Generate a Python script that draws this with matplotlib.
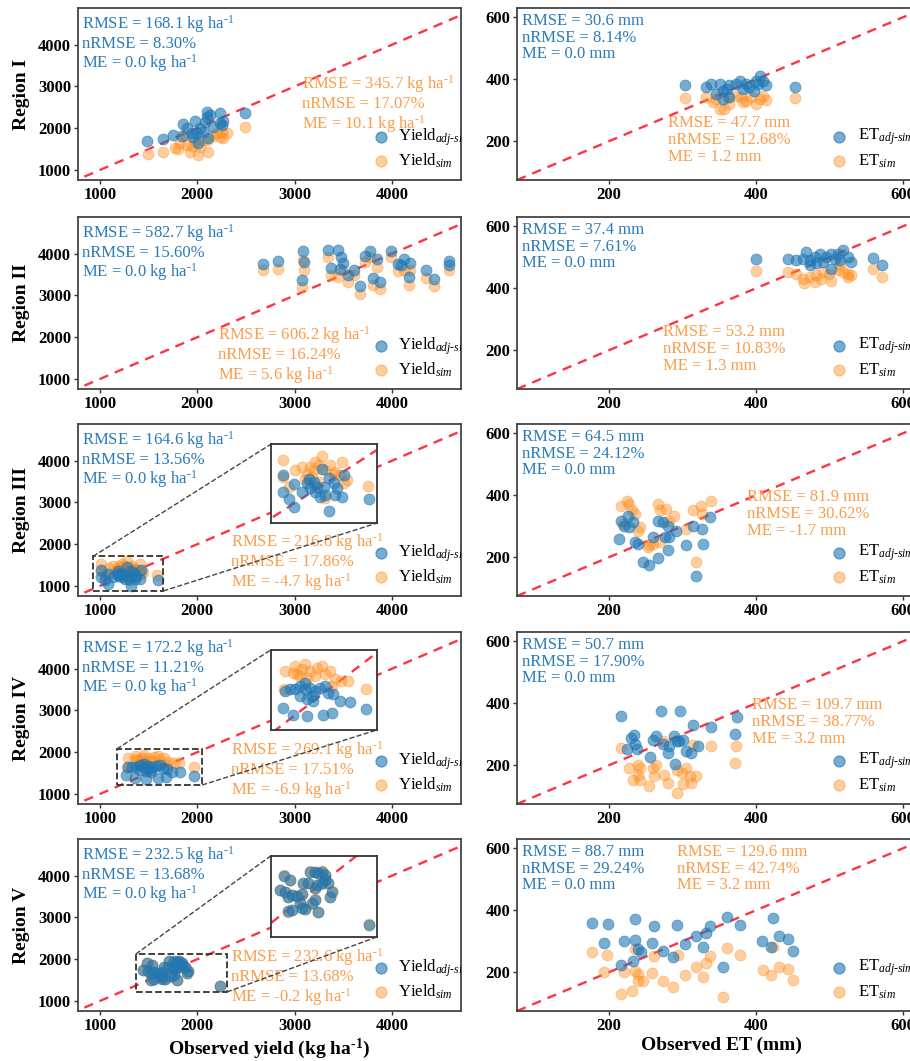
import matplotlib.pyplot as plt
from matplotlib.patches import Rectangle

plt.rcParams['font.family'] = ['Liberation Serif', 'DejaVu Serif']
plt.rcParams['mathtext.fontset'] = 'custom'
plt.rcParams['mathtext.rm'] = 'Liberation Serif'
plt.rcParams['mathtext.it'] = 'Liberation Serif:italic'
plt.rcParams['mathtext.bf'] = 'Liberation Serif:bold'

BLUE = '#1f77b4'
ORANGE = '#ff8c1a'
BLUE_TXT = '#2a7ab9'
ORANGE_TXT = '#fb9d4a'
RED = '#ff3344'

regions = ['Region I', 'Region II', 'Region III', 'Region IV', 'Region V']

# ---- yield (kg ha-1) ----
yI_obs_a = [1479, 1651, 1753, 1849, 1890, 1976, 1993, 2027, 2096, 2103, 2079, 2130, 2010, 2113,
            2233, 2250, 2233, 2490, 2062, 1942, 2164, 2267, 1839, 1959]
yI_adj = [1704, 1736, 1840, 2104, 2000, 2184, 1880, 2000, 2264, 2400, 2160, 2320, 1640, 1760,
          2360, 2080, 2120, 2360, 1920, 1880, 2040, 2184, 1816, 1800]
yI_obs_s = [1490, 1651, 1771, 1805, 1925, 2010, 2113, 1890, 2027, 2062, 2164, 2233, 2250, 2301,
            2490, 2198, 1976, 1873, 2096, 1942, 1822, 2267]
yI_sim = [1384, 1440, 1520, 1504, 1440, 1360, 1440, 1600, 1560, 1720, 1816, 1800, 1920, 1880,
          2040, 1880, 1680, 1840, 1720, 1576, 1656, 1760]

yII_obs_a = [2671, 2832, 3072, 3089, 3096, 3339, 3373, 3449, 3473, 3500, 3466, 3551, 3613, 3671,
             3723, 3774, 3808, 3842, 3877, 3990, 4058, 4127, 4178, 4185, 4349, 4428, 4589, 4589, 4093]
yII_adj = [3760, 3816, 3376, 4056, 3800, 4080, 3664, 4080, 3920, 3776, 3640, 3480, 3616, 3216,
           3936, 4056, 3424, 3880, 3320, 4056, 3744, 3880, 3440, 3776, 3600, 3392, 3824, 3720, 3720]
yII_obs_s = [2671, 2832, 3072, 3089, 3096, 3339, 3373, 3449, 3551, 3613, 3671, 3723, 3808, 3842,
             3877, 3990, 4058, 4127, 4178, 4185, 4349, 4428, 4589, 3774, 3500]
yII_sim = [3600, 3640, 3200, 3856, 3600, 3920, 3480, 3440, 3320, 3480, 3040, 3800, 3240, 3680,
           3160, 3920, 3584, 3600, 3240, 3600, 3424, 3216, 3600, 3920, 3600]

yIII_obs_a = [1011, 1011, 1049, 1088, 1083, 1139, 1173, 1184, 1196, 1229, 1263, 1274, 1286, 1297,
              1319, 1353, 1364, 1376, 1409, 1421, 1319, 1596, 1218, 1241]
yIII_adj = [1388, 1209, 1132, 1046, 1285, 1209, 1295, 1347, 1243, 1209, 1157, 1451, 1260, 1174,
            1354, 1305, 1174, 1243, 1157, 1381, 1001, 1132, 1312, 1260]
yIII_obs_s = [1011, 1011, 1049, 1094, 1139, 1173, 1196, 1218, 1229, 1252, 1274, 1297, 1331, 1353,
              1398, 1409, 1443, 1421, 1252, 1297, 1364, 1589, 1162, 1207]
yIII_sim = [1537, 1364, 1260, 1433, 1468, 1399, 1468, 1433, 1520, 1485, 1589, 1433, 1485, 1399,
            1381, 1520, 1330, 1295, 1312, 1139, 1416, 1271, 1347, 1364]

yIV_obs_a = [1273, 1361, 1470, 1602, 1675, 1744, 1826, 1963, 1293, 1334, 1375, 1416, 1457, 1498,
             1539, 1580, 1621, 1648, 1416, 1470, 1525, 1511, 1689, 1457]
yIV_adj = [1449, 1377, 1366, 1377, 1402, 1529, 1521, 1439, 1637, 1655, 1655, 1691, 1727, 1673,
           1637, 1673, 1691, 1619, 1583, 1547, 1529, 1583, 1601, 1655]
yIV_obs_s = [1279, 1361, 1388, 1429, 1457, 1498, 1552, 1593, 1621, 1375, 1416, 1539, 1662, 1703,
             1757, 1812, 1963, 1293, 1675, 1470]
yIV_sim = [1655, 1835, 1817, 1871, 1925, 1853, 1889, 1907, 1817, 1907, 1799, 1799, 1853, 1763,
           1745, 1745, 1655, 1853, 1691, 1781]

yV_obs_a = [1481, 1539, 1446, 1496, 1554, 1525, 1598, 1642, 1627, 1642, 1554, 1525, 1671, 1729,
            1759, 1656, 1715, 1759, 1788, 1817, 1846, 1876, 1817, 1773, 1700, 1905, 1890, 1788,
            2235, 1759, 1846]
yV_adj = [1899, 1854, 1741, 1723, 1685, 1666, 1674, 1696, 1599, 1535, 1516, 1505, 1523, 1591,
          1629, 1817, 1948, 1948, 1929, 1948, 1911, 1817, 1817, 1798, 1817, 1723, 1666, 1497,
          1354, 1761, 1854]
yV_obs_s = [1481, 1539, 1446, 1496, 1554, 1525, 1598, 1642, 1627, 1642, 1554, 1525, 1671, 1729,
            1759, 1656, 1715, 1759, 1788, 1817, 1846, 1876, 1817, 1773, 1700, 1905, 1890, 1788,
            2235, 1759, 1846]
yV_sim = [1905, 1850, 1745, 1720, 1690, 1660, 1670, 1700, 1595, 1540, 1520, 1500, 1528, 1585,
          1635, 1812, 1952, 1943, 1933, 1955, 1905, 1822, 1812, 1795, 1820, 1728, 1660, 1500,
          1360, 1765, 1850]

# ---- ET (mm) ----
eI_obs_a = [303, 332, 339, 351, 355, 360, 364, 373, 378, 387, 391, 400, 405, 410, 414, 398, 364,
            355, 453, 346, 382, 403]
eI_adj = [380, 376, 385, 385, 363, 369, 380, 385, 396, 385, 374, 396, 412, 396, 380, 363, 342,
          337, 376, 353, 369, 385]
eI_obs_s = [303, 332, 341, 351, 357, 364, 373, 380, 387, 400, 405, 414, 453, 346, 393, 362, 410, 382]
eI_sim = [340, 342, 326, 304, 304, 320, 347, 342, 331, 320, 337, 334, 340, 337, 342, 342, 347, 326]

eII_obs_a = [400, 444, 455, 464, 468, 473, 480, 487, 491, 496, 502, 507, 511, 518, 525, 530, 559,
             571, 502, 473, 482, 514]
eII_adj = [496, 494, 492, 496, 517, 490, 501, 512, 485, 501, 512, 496, 512, 523, 501, 485, 499,
           474, 463, 474, 480, 490]
eII_obs_s = [400, 444, 455, 464, 466, 480, 482, 491, 502, 511, 518, 525, 530, 559, 571, 473, 500,
             489, 514, 525]
eII_sim = [456, 453, 447, 431, 417, 420, 442, 453, 424, 458, 453, 447, 442, 463, 437, 437, 447,
           431, 474, 437]

eIII_obs_a = [214, 217, 221, 226, 228, 233, 235, 239, 246, 255, 267, 267, 274, 280, 282, 281, 291,
              305, 314, 319, 326, 328, 337, 260, 276]
eIII_adj = [259, 318, 302, 334, 297, 313, 248, 243, 184, 176, 198, 318, 313, 302, 265, 222, 286,
            238, 302, 139, 291, 243, 329, 265, 265]
eIII_obs_s = [217, 224, 228, 231, 242, 239, 253, 260, 267, 269, 278, 289, 269, 305, 314, 325, 326,
              319, 339, 219, 235, 255, 282]
eIII_sim = [367, 383, 372, 351, 297, 286, 232, 243, 372, 351, 356, 334, 248, 291, 351, 367, 340,
            184, 381, 308, 340, 238, 318]

eIV_obs_a = [216, 224, 230, 234, 236, 238, 256, 260, 264, 271, 273, 280, 289, 292, 297, 301, 305,
             312, 314, 321, 339, 371, 374, 290, 296, 282]
eIV_adj = [358, 251, 288, 299, 267, 251, 226, 283, 294, 376, 267, 240, 294, 277, 376, 283, 245,
           240, 329, 261, 324, 301, 355, 205, 277, 261]
eIV_obs_s = [216, 228, 233, 239, 239, 242, 255, 260, 262, 273, 275, 280, 292, 292, 299, 301, 310,
             312, 314, 319, 339, 373, 372, 264, 242, 305]
eIV_sim = [256, 191, 154, 202, 170, 151, 132, 191, 165, 277, 170, 143, 111, 186, 175, 138, 165,
           143, 266, 165, 261, 261, 208, 202, 191, 191]

eV_obs_a = [177, 199, 193, 217, 221, 235, 235, 233, 239, 244, 258, 262, 273, 287, 293, 303, 318,
            328, 332, 338, 355, 361, 379, 408, 420, 423, 432, 443, 451]
eV_adj = [360, 355, 294, 225, 301, 371, 305, 236, 276, 265, 294, 348, 270, 249, 351, 290, 316,
          283, 326, 348, 216, 378, 351, 301, 283, 375, 316, 306, 268]
eV_obs_s = [177, 198, 194, 217, 221, 231, 235, 235, 239, 239, 246, 259, 261, 273, 287, 294, 303,
            318, 328, 332, 338, 355, 361, 379, 409, 420, 423, 431, 443, 451]
eV_sim = [265, 257, 200, 130, 200, 138, 276, 205, 173, 195, 173, 197, 254, 173, 154, 256, 192,
          218, 186, 229, 251, 119, 279, 257, 208, 192, 281, 218, 209, 175]

yield_series = [(yI_obs_a, yI_adj, yI_obs_s, yI_sim), (yII_obs_a, yII_adj, yII_obs_s, yII_sim),
                (yIII_obs_a, yIII_adj, yIII_obs_s, yIII_sim), (yIV_obs_a, yIV_adj, yIV_obs_s, yIV_sim),
                (yV_obs_a, yV_adj, yV_obs_s, yV_sim)]
et_series = [(eI_obs_a, eI_adj, eI_obs_s, eI_sim), (eII_obs_a, eII_adj, eII_obs_s, eII_sim),
             (eIII_obs_a, eIII_adj, eIII_obs_s, eIII_sim), (eIV_obs_a, eIV_adj, eIV_obs_s, eIV_sim),
             (eV_obs_a, eV_adj, eV_obs_s, eV_sim)]

# RMSE, nRMSE (%), ME
yield_adj_stats = [(168.1, 8.30, 0.0), (582.7, 15.60, 0.0), (164.6, 13.56, 0.0),
                   (172.2, 11.21, 0.0), (232.5, 13.68, 0.0)]
yield_sim_stats = [(345.7, 17.07, 10.1), (606.2, 16.24, 5.6), (216.8, 17.86, -4.7),
                   (269.1, 17.51, -6.9), (232.6, 13.68, -0.2)]
et_adj_stats = [(30.6, 8.14, 0.0), (37.4, 7.61, 0.0), (64.5, 24.12, 0.0),
                (50.7, 17.90, 0.0), (88.7, 29.24, 0.0)]
et_sim_stats = [(47.7, 12.68, 1.2), (53.2, 10.83, 1.3), (81.9, 30.62, -1.7),
                (109.7, 38.77, 3.2), (129.6, 42.74, 3.2)]

# zoom windows on the yield panels: (x0, x1, y0, y1) of the box and of the inset
zooms = {2: ((930, 1650, 880, 1710), (2760, 3850, 2510, 4400)),
         3: ((1175, 2050, 1215, 2080), (2757, 3847, 2535, 4453)),
         4: ((1370, 2305, 1215, 2125), (2757, 3847, 2535, 4477))}

yield_sim_pos = [(0.585, 0.62), (0.366, 0.376), (0.40, 0.376), (0.40, 0.376), (0.40, 0.376)]
et_sim_pos = [(0.37, 0.376), (0.358, 0.376), (0.564, 0.62), (0.576, 0.62), (0.392, 0.97)]

Y_LIM = (775, 4710), (760, 4880)
E_LIM = (75, 630), (75, 630)

fig = plt.figure(figsize=(9.1, 10.61), dpi=100)
W, H = 910, 1061
row_tops = [8, 217, 424, 632, 839]
AX_H = 172


def stats_text(st, unit):
    u = r' kg ha$^{\text{-}1}$' if unit == 'kg' else ' mm'
    return 'RMSE = %.1f%s\nnRMSE = %.2f%%\nME = %.1f%s' % (st[0], u, st[1], st[2], u)


def scatter_pair(ax, series):
    xa, ya, xs, ys = series
    ax.scatter(xs, ys, s=62, color=ORANGE, alpha=0.42, linewidths=0.6, zorder=3)
    ax.scatter(xa, ya, s=62, color=BLUE, alpha=0.6, linewidths=0.6, zorder=4)


def style(ax):
    for sp in ax.spines.values():
        sp.set_color('#444444')
        sp.set_linewidth(1.3)
    ax.tick_params(length=3, width=1, color='#333333', labelsize=12, pad=2)
    for lab in ax.get_xticklabels() + ax.get_yticklabels():
        lab.set_fontweight('bold')


def legend(ax, name):
    ax.scatter([0.79], [0.25], s=62, color=BLUE, alpha=0.6, transform=ax.transAxes, zorder=6)
    ax.scatter([0.79], [0.11], s=62, color=ORANGE, alpha=0.42, transform=ax.transAxes, zorder=6)
    ax.text(0.835, 0.25, name + r'$_{\mathit{adj\text{-}sim}}$', transform=ax.transAxes,
            fontsize=12, va='center', ha='left', clip_on=True)
    ax.text(0.835, 0.11, name + r'$_{\mathit{sim}}$', transform=ax.transAxes,
            fontsize=12, va='center', ha='left', clip_on=True)


for i in range(5):
    bottom = 1 - (row_tops[i] + AX_H) / H
    axl = fig.add_axes([78 / W, bottom, 383 / W, AX_H / H])
    axr = fig.add_axes([517 / W, bottom, 408 / W, AX_H / H])

    # yield panel
    scatter_pair(axl, yield_series[i])
    axl.plot([840, 5000], [840, 5000], ls=(0, (4, 3)), color=RED, lw=1.7, zorder=2)
    axl.set_xlim(*Y_LIM[0])
    axl.set_ylim(*Y_LIM[1])
    axl.set_xticks([1000, 2000, 3000, 4000])
    axl.set_yticks([1000, 2000, 3000, 4000])
    axl.text(0.01, 0.97, stats_text(yield_adj_stats[i], 'kg'), transform=axl.transAxes,
             color=BLUE_TXT, fontsize=12, va='top', linespacing=1.05)
    px, py = yield_sim_pos[i]
    axl.text(px, py, stats_text(yield_sim_stats[i], 'kg'), transform=axl.transAxes,
             color=ORANGE_TXT, fontsize=12, va='top', linespacing=1.05, zorder=5)
    legend(axl, 'Yield')
    axl.set_ylabel(regions[i], fontsize=14, fontweight='bold', labelpad=6)
    style(axl)

    if i in zooms:
        (bx0, bx1, by0, by1), (ix0, ix1, iy0, iy1) = zooms[i]
        axl.add_patch(Rectangle((bx0, by0), bx1 - bx0, by1 - by0, fill=False, ls='--',
                                ec='#333333', lw=1.3, zorder=6))
        axl.plot([bx0, ix0], [by1, iy1], ls='--', color='#444444', lw=1.0, zorder=6)
        axl.plot([bx1, ix1], [by0, iy0], ls='--', color='#444444', lw=1.0, zorder=6)
        ins = axl.inset_axes([ix0, iy0, ix1 - ix0, iy1 - iy0], transform=axl.transData)
        ins.set_zorder(7)
        scatter_pair(ins, yield_series[i])
        ins.plot([0, 5000], [0, 5000], ls=(0, (4, 3)), color=RED, lw=1.7, zorder=2)
        ins.set_xlim(bx0, bx1)
        ins.set_ylim(by0, by1)
        ins.set_xticks([])
        ins.set_yticks([])
        for sp in ins.spines.values():
            sp.set_color('#333333')
            sp.set_linewidth(1.3)

    # ET panel
    scatter_pair(axr, et_series[i])
    axr.plot([75, 640], [75, 640], ls=(0, (4, 3)), color=RED, lw=1.7, zorder=2)
    axr.set_xlim(*E_LIM[0])
    axr.set_ylim(*E_LIM[1])
    axr.set_xticks([200, 400, 600])
    axr.set_yticks([200, 400, 600])
    axr.text(0.012, 0.97, stats_text(et_adj_stats[i], 'mm'), transform=axr.transAxes,
             color=BLUE_TXT, fontsize=12, va='top', linespacing=1.05)
    px, py = et_sim_pos[i]
    axr.text(px, py, stats_text(et_sim_stats[i], 'mm'), transform=axr.transAxes,
             color=ORANGE_TXT, fontsize=12, va='top', linespacing=1.05, zorder=5)
    legend(axr, 'ET')
    style(axr)

    if i == 4:
        axl.set_xlabel(r'Observed yield (kg ha$^{\mathbf{\text{-}1}}$)', fontsize=14,
                       fontweight='bold', labelpad=2)
        axr.set_xlabel('Observed ET (mm)', fontsize=14, fontweight='bold', labelpad=2)

fig.savefig('out.png', dpi=100)
